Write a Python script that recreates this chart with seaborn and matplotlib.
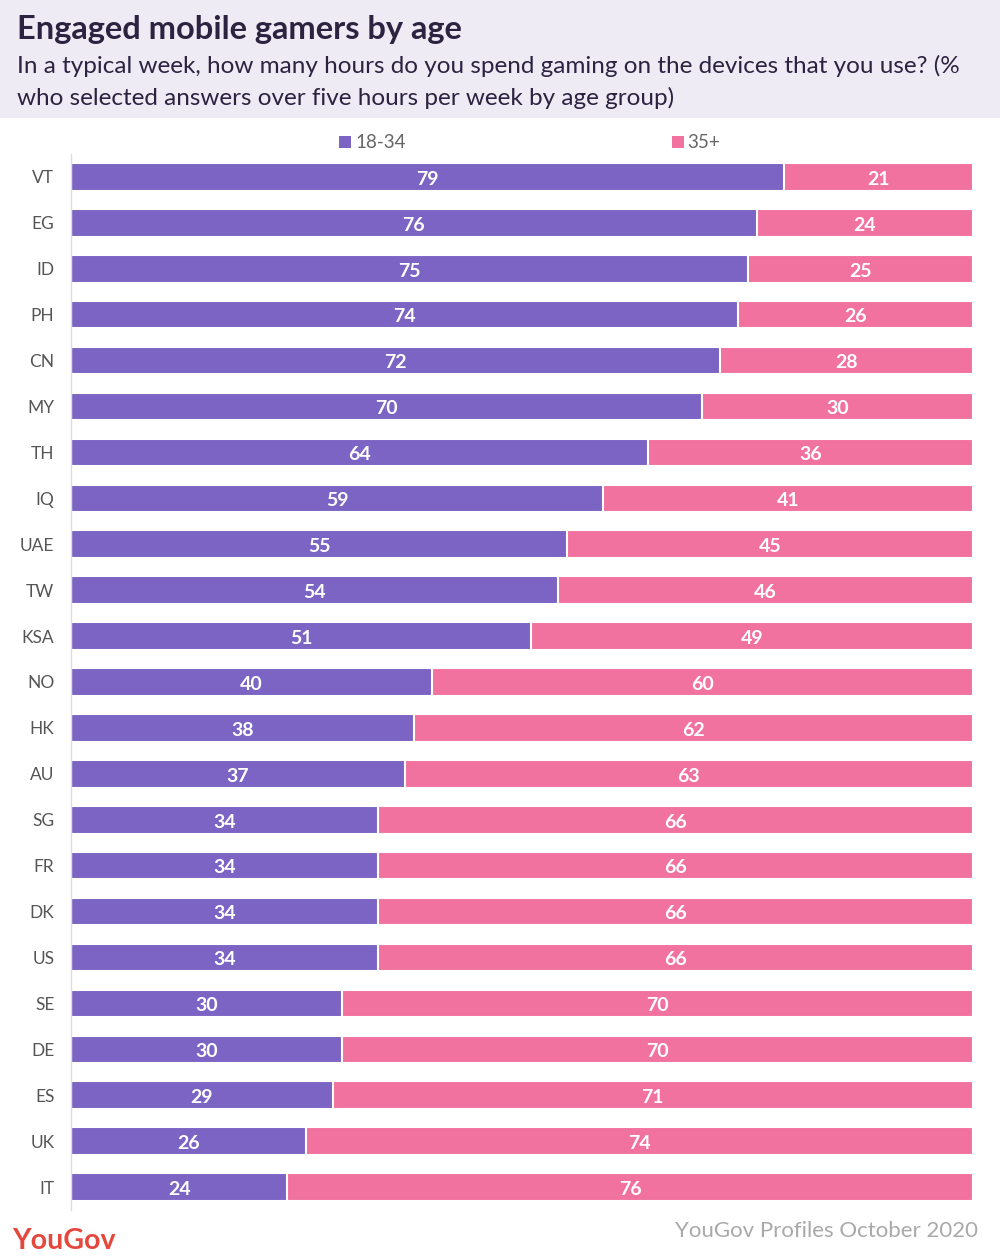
import matplotlib
matplotlib.use("Agg")
import matplotlib.pyplot as plt
import seaborn as sns
import pandas as pd
from matplotlib.patches import Rectangle

countries = ["VT", "EG", "ID", "PH", "CN", "MY", "TH", "IQ", "UAE", "TW", "KSA", "NO",
             "HK", "AU", "SG", "FR", "DK", "US", "SE", "DE", "ES", "UK", "IT"]
young = [79, 76, 75, 74, 72, 70, 64, 59, 55, 54, 51, 40, 38, 37, 34, 34, 34, 34, 30, 30, 29, 26, 24]
older = [21, 24, 25, 26, 28, 30, 36, 41, 45, 46, 49, 60, 62, 63, 66, 66, 66, 66, 70, 70, 71, 74, 76]
series_names = ["18-34", "35+"]

PURPLE = "#7B64C4"
PINK = "#F2729F"

df = pd.DataFrame({"country": countries, "young": young, "older": older})
df["total"] = df["young"] + df["older"]

sns.set_theme(style="white")
plt.rcParams["font.family"] = ["Lato", "DejaVu Sans"]

fig = plt.figure(figsize=(10, 12.59), dpi=100)
fig.patch.set_facecolor("white")

# header band
fig.add_artist(Rectangle((0, 1 - 118 / 1259), 1, 118 / 1259, transform=fig.transFigure,
                         facecolor="#EFEBF5", edgecolor="none", zorder=0))

ax = fig.add_axes([71 / 1000, 49 / 1259, 902 / 1000, 1056 / 1259])

sns.barplot(data=df, y="country", x="total", orient="h", color=PINK, width=0.6,
            edgecolor="white", linewidth=1.5, saturation=1, ax=ax)
sns.barplot(data=df, y="country", x="young", orient="h", color=PURPLE, width=0.6,
            edgecolor="white", linewidth=1.5, saturation=1, ax=ax)

for i, (y, o) in enumerate(zip(young, older)):
    ax.text(y / 2, i + 0.05, str(y), ha="center", va="center", color="white",
            fontsize=14, fontweight="bold")
    ax.text(y + o / 2, i + 0.05, str(o), ha="center", va="center", color="white",
            fontsize=14, fontweight="bold")

ax.set_xlim(0, 100)
ax.set_ylim(len(countries) - 0.5, -0.5)
ax.set_xlabel("")
ax.set_ylabel("")
ax.set_xticks([])
for s in ["top", "right", "bottom"]:
    ax.spines[s].set_visible(False)
ax.spines["left"].set_color("#DDDDDD")
ax.spines["left"].set_linewidth(1)
ax.tick_params(axis="y", length=0, pad=12, labelsize=12.5, labelcolor="#555555")

# legend
fig.add_artist(Rectangle((339 / 1000, 1 - 148 / 1259), 12 / 1000, 12 / 1259,
                         transform=fig.transFigure, facecolor=PURPLE, edgecolor="none"))
fig.text(355 / 1000, 1 - 142 / 1259, series_names[0], ha="left", va="center",
         fontsize=13.5, color="#666666")
fig.add_artist(Rectangle((672 / 1000, 1 - 148 / 1259), 12 / 1000, 12 / 1259,
                         transform=fig.transFigure, facecolor=PINK, edgecolor="none"))
fig.text(687 / 1000, 1 - 142 / 1259, series_names[1], ha="left", va="center",
         fontsize=13.5, color="#666666")

# titles
fig.text(17 / 1000, 1 - 30 / 1259, "Engaged mobile gamers by age", ha="left", va="center",
         fontsize=23.5, fontweight="bold", color="#2B2340")
fig.text(17 / 1000, 1 - 66 / 1259,
         "In a typical week, how many hours do you spend gaming on the devices that you use? (%",
         ha="left", va="center", fontsize=17.5, fontweight="normal", color="#2B2340")
fig.text(17 / 1000, 1 - 98 / 1259,
         "who selected answers over five hours per week by age group)",
         ha="left", va="center", fontsize=17.5, fontweight="normal", color="#2B2340")

# footer
fig.text(12 / 1000, 1 - 1241 / 1259, "YouGov", ha="left", va="center",
         fontsize=20.5, fontweight="bold", color="#E5473D")
fig.text(978 / 1000, 1 - 1231 / 1259, "YouGov Profiles October 2020", ha="right", va="center",
         fontsize=16, fontweight="normal", color="#A9A9A9")

fig.savefig("out.png", dpi=100)
